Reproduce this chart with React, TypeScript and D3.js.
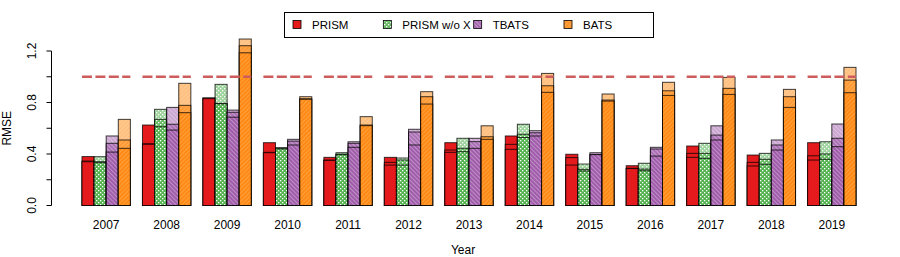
import React from "react"
import * as d3 from "d3"

const years = ["2007", "2008", "2009", "2010", "2011", "2012", "2013", "2014", "2015", "2016", "2017", "2018", "2019"]
const seriesNames = ["PRISM", "PRISM w/o X", "TBATS", "BATS"]

// three overlaid levels per bar: high (lightest), mid, low (darkest)
const prismHigh = [0.38, 0.625, 0.835, 0.488, 0.374, 0.374, 0.488, 0.54, 0.398, 0.309, 0.462, 0.392, 0.488]
const prismMid = [0.345, 0.48, 0.835, 0.413, 0.353, 0.335, 0.431, 0.475, 0.372, 0.289, 0.405, 0.335, 0.386]
const prismLow = [0.34, 0.475, 0.83, 0.41, 0.35, 0.314, 0.413, 0.436, 0.314, 0.287, 0.374, 0.307, 0.353]

const noxHigh = [0.379, 0.747, 0.941, 0.449, 0.41, 0.369, 0.522, 0.631, 0.322, 0.328, 0.483, 0.405, 0.495]
const noxMid = [0.34, 0.669, 0.793, 0.445, 0.398, 0.353, 0.444, 0.553, 0.281, 0.283, 0.405, 0.359, 0.4]
const noxLow = [0.333, 0.612, 0.79, 0.44, 0.395, 0.314, 0.418, 0.528, 0.268, 0.27, 0.366, 0.32, 0.359]

const tbatsHigh = [0.54, 0.762, 0.741, 0.514, 0.495, 0.592, 0.522, 0.581, 0.41, 0.452, 0.619, 0.509, 0.633]
const tbatsMid = [0.483, 0.631, 0.724, 0.5, 0.483, 0.571, 0.496, 0.565, 0.397, 0.439, 0.547, 0.47, 0.522]
const tbatsLow = [0.415, 0.586, 0.686, 0.47, 0.452, 0.47, 0.444, 0.54, 0.395, 0.384, 0.509, 0.431, 0.457]

const batsHigh = [0.669, 0.949, 1.293, 0.845, 0.69, 0.884, 0.619, 1.026, 0.866, 0.957, 0.995, 0.902, 1.073]
const batsMid = [0.509, 0.778, 1.241, 0.829, 0.625, 0.845, 0.534, 0.93, 0.819, 0.891, 0.91, 0.845, 0.974]
const batsLow = [0.444, 0.721, 1.186, 0.825, 0.62, 0.788, 0.514, 0.879, 0.811, 0.855, 0.863, 0.762, 0.876]

const yTicks = [0, 0.2, 0.4, 0.6, 0.8, 1.0, 1.2]
const yTickLabels = ["0.0", "", "0.4", "", "0.8", "", "1.2"]
const threshold = 1.0

const levels = [
  [prismHigh, prismMid, prismLow],
  [noxHigh, noxMid, noxLow],
  [tbatsHigh, tbatsMid, tbatsLow],
  [batsHigh, batsMid, batsLow],
]

const fills = ["#E41A1C", "url(#pNox)", "url(#pTbats)", "url(#pBats)"]
// opacity of each overlaid layer (high, mid, low)
const layerOpacity = [
  [1, 1, 1],
  [0.55, 0.7, 0.7],
  [0.5, 0.6, 0.6],
  [0.5, 0.6, 0.6],
]

const W = 900
const H = 257
const font = "'Liberation Sans', Arial, Helvetica, sans-serif"

export default function App() {
  const x = d3.scaleBand().domain(years).range([82, 856]).paddingInner(0.2).paddingOuter(0)
  const xs = d3.scaleBand().domain(seriesNames).range([0, x.bandwidth()]).padding(0)
  const y = d3.scaleLinear().domain([0, 1.2]).range([205.5, 51])
  const axisX = 51.5

  // legend columns, evenly spaced
  const legendX = d3.scalePoint().domain(seriesNames).range([312, 583])

  return (
    <div style={{ position: "absolute", left: 0, top: 0 }}>
      <svg width={W} height={H} style={{ display: "block", background: "#fff" }} fontFamily={font}>
        <defs>
          <pattern id="pNox" width={4} height={4} patternUnits="userSpaceOnUse">
            <rect width={4} height={4} fill="#4DAF4A" />
            <rect x={0} y={0} width={1.3} height={1.3} fill="#fff" />
            <rect x={2} y={2} width={1.3} height={1.3} fill="#fff" />
          </pattern>
          <pattern id="pTbats" width={3} height={3} patternUnits="userSpaceOnUse" patternTransform="rotate(-45)">
            <rect width={3} height={3} fill="#984EA3" />
            <line x1={0} y1={0} x2={0} y2={3} stroke="#fff" strokeWidth={0.9} strokeOpacity={0.7} />
          </pattern>
          <pattern id="pBats" width={3} height={3} patternUnits="userSpaceOnUse" patternTransform="rotate(45)">
            <rect width={3} height={3} fill="#FF7F00" />
            <line x1={0} y1={0} x2={0} y2={3} stroke="#FFC070" strokeWidth={0.8} />
          </pattern>
        </defs>

        {/* bars */}
        {years.map((yr, gi) => (
          <g key={yr}>
            {seriesNames.map((s, si) =>
              levels[si].map((arr, li) => {
                const v = arr[gi]
                return (
                  <rect
                    key={s + li}
                    x={x(yr)! + xs(s)!}
                    y={y(v)}
                    width={xs.bandwidth()}
                    height={y(0) - y(v)}
                    fill={fills[si]}
                    fillOpacity={layerOpacity[si][li]}
                    stroke="#000"
                    strokeOpacity={0.75}
                    strokeWidth={1}
                  />
                )
              })
            )}
          </g>
        ))}

        {/* threshold line per group */}
        {years.map((yr) => (
          <line
            key={"t" + yr}
            x1={x(yr)!}
            x2={x(yr)! + x.bandwidth()}
            y1={y(threshold)}
            y2={y(threshold)}
            stroke="#CD5C5C"
            strokeWidth={2.5}
            strokeDasharray="10 3.4"
          />
        ))}

        {/* y axis */}
        <line x1={axisX} x2={axisX} y1={y(0)} y2={y(1.2)} stroke="#000" strokeWidth={1} />
        {yTicks.map((t, i) => (
          <g key={"y" + i}>
            <line x1={axisX - 5} x2={axisX} y1={y(t)} y2={y(t)} stroke="#000" strokeWidth={1} />
            {yTickLabels[i] && (
              <text
                transform={`translate(${36},${y(t)}) rotate(-90)`}
                textAnchor="middle"
                fontSize={12}
              >
                {yTickLabels[i]}
              </text>
            )}
          </g>
        ))}
        <text transform={`translate(11,${y(0.6)}) rotate(-90)`} textAnchor="middle" fontSize={12}>
          RMSE
        </text>

        {/* x labels */}
        {years.map((yr) => (
          <text key={"l" + yr} x={x(yr)! + x.bandwidth() / 2} y={229} textAnchor="middle" fontSize={12}>
            {yr}
          </text>
        ))}
        <text x={463} y={254} textAnchor="middle" fontSize={12}>
          Year
        </text>

        {/* legend */}
        <rect x={284.5} y={12.5} width={369} height={25} fill="#fff" stroke="#000" strokeWidth={1} />
        {seriesNames.map((s, i) => (
          <g key={"lg" + s}>
            <rect
              x={legendX(s)! - 19}
              y={20.5}
              width={8}
              height={8}
              fill={fills[i]}
              fillOpacity={i === 0 ? 1 : 0.85}
              stroke="#000"
              strokeWidth={0.8}
            />
            <text x={legendX(s)!} y={28.5} fontSize={11.5}>
              {s}
            </text>
          </g>
        ))}
      </svg>
    </div>
  )
}
